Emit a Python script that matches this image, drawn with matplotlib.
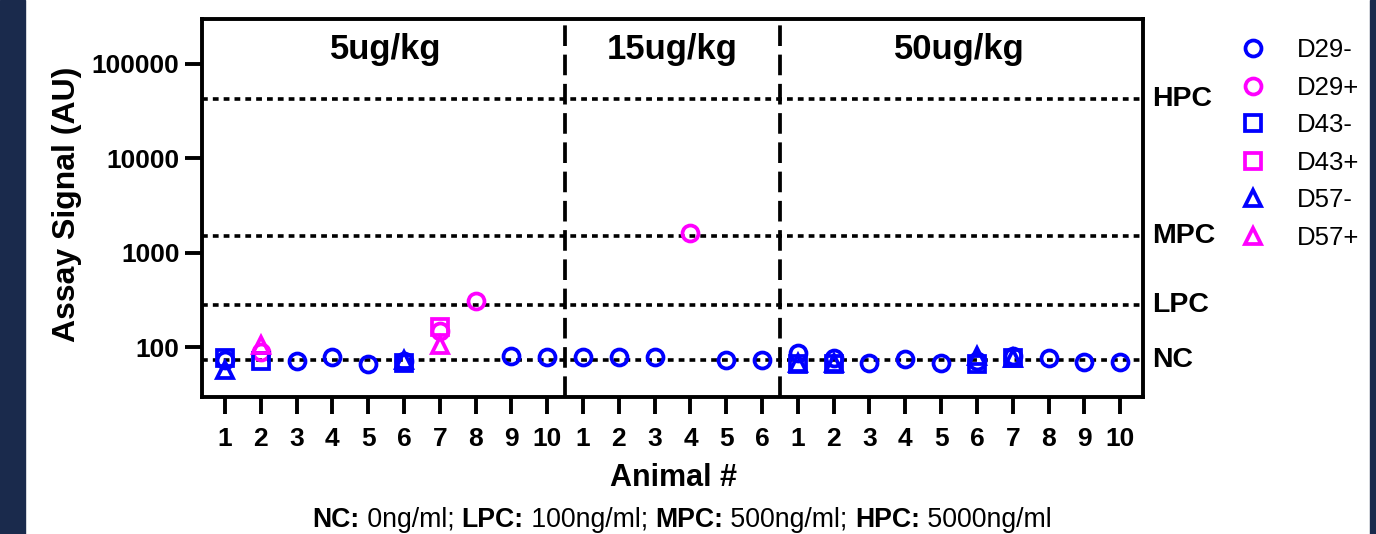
import matplotlib
matplotlib.use("Agg")
import matplotlib.pyplot as plt
from matplotlib.patches import Rectangle
from matplotlib.offsetbox import TextArea, HPacker, AnnotationBbox
import matplotlib.transforms as mtransforms
import numpy as np

plt.rcParams['font.family'] = ['Liberation Sans', 'DejaVu Sans']

# 1. Data (None = no sample)
groups = ['5ug/kg', '15ug/kg', '50ug/kg']
group_sizes = [10, 6, 10]
animal_labels = [str(i) for n in group_sizes for i in range(1, n + 1)]

d29_neg = [73, None, 71, 78, 67, 72, None, None, 80, 78,
           79, 79, 79, None, 73, 74,
           88, 77, 68, 75, 69, 71, 80, 77, 70, 70]
d29_pos = [None, 90, None, None, None, None, 147, 306, None, None,
           None, None, None, 1630, None, None,
           None, None, None, None, None, None, None, None, None, None]
d43_neg = [77, 72, None, None, None, 68, None, None, None, None,
           None, None, None, None, None, None,
           66, 66, None, None, None, 66, 77, None, None, None]
d43_pos = [None, None, None, None, None, None, 163, None, None, None,
           None, None, None, None, None, None,
           None, None, None, None, None, None, None, None, None, None]
d57_neg = [57, None, None, None, None, 73, None, None, None, None,
           None, None, None, None, None, None,
           68, 68, None, None, None, 80, 77, None, None, None]
d57_pos = [None, 106, None, None, None, None, 106, None, None, None,
           None, None, None, None, None, None,
           None, None, None, None, None, None, None, None, None, None]

ref_names = ['HPC', 'MPC', 'LPC', 'NC']
ref_values = [42000, 1500, 280, 73]

series = [
    ('D29-', d29_neg, 'o', 'blue'),
    ('D29+', d29_pos, 'o', 'magenta'),
    ('D43-', d43_neg, 's', 'blue'),
    ('D43+', d43_pos, 's', 'magenta'),
    ('D57-', d57_neg, '^', 'blue'),
    ('D57+', d57_pos, '^', 'magenta'),
]

# 2. Figure
fig = plt.figure(figsize=(13.76, 5.34), dpi=100)
ax = fig.add_axes([0.1466, 0.2571, 0.6841, 0.7079])

navy = '#1a2a4c'
fig.add_artist(Rectangle((0, 0), 25 / 1376, 1, transform=fig.transFigure,
                         color=navy, zorder=-5))
fig.add_artist(Rectangle((1370 / 1376, 0), 6 / 1376, 1, transform=fig.transFigure,
                         color=navy, zorder=-5))

x = np.arange(len(animal_labels))

handles = []
for name, vals, marker, color in series:
    y = np.array([np.nan if v is None else v for v in vals], dtype=float)
    h, = ax.plot(x, y, linestyle='none', marker=marker, markersize=11.5,
                 markerfacecolor='none', markeredgecolor=color,
                 markeredgewidth=2.7, label=name, zorder=5)
    handles.append(h)

# reference lines
rt = mtransforms.blended_transform_factory(ax.transAxes, ax.transData)
for name, val in zip(ref_names, ref_values):
    ax.axhline(val, color='black', lw=2.6, linestyle=(0, (1.6, 1.4)), zorder=2)
    ax.text(1.01, val, name, transform=rt, ha='left', va='center',
            fontsize=20.5, fontweight='bold', clip_on=False)

# group separators and titles
bounds = np.cumsum(group_sizes)
for b in bounds[:-1]:
    ax.axvline(b - 0.5, color='black', lw=2.7, linestyle=(0, (5.5, 2.3)), zorder=2)
starts = np.concatenate([[0], bounds[:-1]])
tt = mtransforms.blended_transform_factory(ax.transData, ax.transAxes)
for g, s, n in zip(groups, starts, group_sizes):
    ax.text(s + (n - 1) / 2, 0.918, g, transform=tt, ha='center', va='center',
            fontsize=25, fontweight='bold')

ax.set_yscale('log')
ax.set_ylim(30, 300000)
ax.set_xlim(-0.65, len(animal_labels) - 1 + 0.64)
ax.set_yticks([100, 1000, 10000, 100000])
ax.set_yticklabels(['100', '1000', '10000', '100000'])
ax.yaxis.set_minor_locator(matplotlib.ticker.NullLocator())
ax.set_xticks(x)
ax.set_xticklabels(animal_labels)
for lab in ax.get_xticklabels() + ax.get_yticklabels():
    lab.set_fontweight('bold')
ax.tick_params(axis='both', labelsize=19, width=2.8, length=12, pad=4)
ax.tick_params(axis='x', pad=10)
for sp in ax.spines.values():
    sp.set_linewidth(2.8)

fig.text(67 / 1376, 1 - 204 / 534, 'Assay Signal (AU)', rotation=90,
         ha='center', va='center', fontsize=23, fontweight='bold')
fig.text(674 / 1376, 1 - 478 / 534, 'Animal #', ha='center', va='center',
         fontsize=22, fontweight='bold')

# footnote with mixed weights
parts = [('NC:', True), (' 0ng/ml; ', False), ('LPC:', True), (' 100ng/ml; ', False),
         ('MPC:', True), (' 500ng/ml; ', False), ('HPC:', True), (' 5000ng/ml', False)]
areas = [TextArea(t, textprops=dict(fontsize=19.2, fontweight='bold' if b else 'normal'))
         for t, b in parts]
box = HPacker(children=areas, pad=0, sep=0, align='baseline')
ab = AnnotationBbox(box, (682 / 1376, 1 - 520 / 534), xycoords='figure fraction',
                    box_alignment=(0.5, 0.5), frameon=False, pad=0)
fig.add_artist(ab)

# legend
ax.legend(handles=handles, loc='upper left', bbox_to_anchor=(0.9012, 0.929),
          bbox_transform=fig.transFigure, frameon=False, borderpad=0,
          borderaxespad=0, handlelength=1.0, handletextpad=1.21,
          labelspacing=0.53, fontsize=18.5)

fig.savefig('out.png', dpi=100)
